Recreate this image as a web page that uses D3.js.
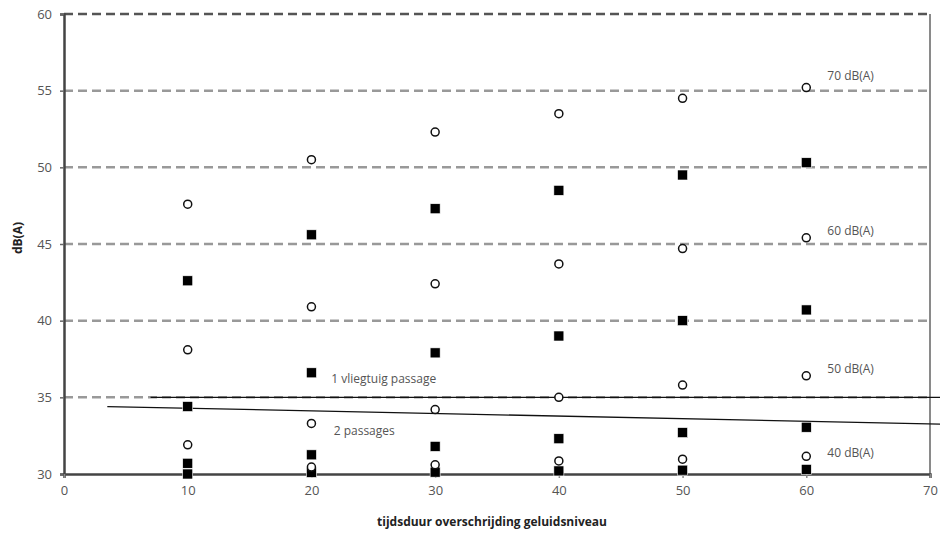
<!DOCTYPE html>
<html>
<head>
<meta charset="utf-8">
<script src="https://cdn.jsdelivr.net/npm/d3@7"></script>
<style>
  body { margin: 0; background: #fff; }
  text { font-family: "Open Sans", "DejaVu Sans", sans-serif; }
</style>
</head>
<body>
<svg width="940" height="535"></svg>
<script>
// Data
let durations = [10, 20, 30, 40, 50, 60];
// open circles (one row per noise level)
let circle70 = [47.6, 50.5, 52.3, 53.5, 54.5, 55.2];
let circle60 = [38.1, 40.9, 42.4, 43.7, 44.7, 45.4];
let circle50 = [31.9, 33.3, 34.2, 35.0, 35.8, 36.4];
let circle40 = [null, 30.45, 30.6, 30.85, 30.97, 31.15];
// filled squares
let square70 = [42.6, 45.6, 47.3, 48.5, 49.5, 50.3];
let square60 = [34.4, 36.6, 37.9, 39.0, 40.0, 40.7];
let square50 = [30.7, 31.25, 31.8, 32.3, 32.7, 33.05];
let square40 = [30.0, 30.1, 30.12, 30.2, 30.25, 30.3];

let yTicks = [30, 35, 40, 45, 50, 55, 60];
let xTicks = [0, 10, 20, 30, 40, 50, 60, 70];

// reference lines
let passage1 = [{x: 7, y: 35}, {x: 71, y: 35}];
let passage2 = [{x: 3.5, y: 34.4}, {x: 71, y: 33.25}];

let labels = [
  {text: "70 dB(A)", x: 61.7, y: 55.95},
  {text: "60 dB(A)", x: 61.7, y: 45.85},
  {text: "50 dB(A)", x: 61.7, y: 36.85},
  {text: "40 dB(A)", x: 61.7, y: 31.4},
  {text: "1 vliegtuig passage", x: 21.6, y: 36.2},
  {text: "2 passages", x: 21.8, y: 32.85}
];

let margin = {top: 14, right: 10, bottom: 61, left: 64};
let width = 940 - margin.left - margin.right;
let height = 535 - margin.top - margin.bottom;

let x = d3.scaleLinear().domain([0, 70]).range([0, width]);
let y = d3.scaleLinear().domain([30, 60]).range([height, 0]);

let svg = d3.select("svg").append("g")
    .attr("transform", "translate(" + margin.left + "," + margin.top + ")");

// right border
svg.append("line")
    .attr("x1", width).attr("x2", width)
    .attr("y1", 0).attr("y2", height)
    .attr("stroke", "#8a8a8a")
    .attr("stroke-width", 2);

// dashed gridlines
svg.selectAll(".grid")
    .data(yTicks.filter(d => d > 30))
    .enter().append("line")
    .attr("class", "grid")
    .attr("x1", 0).attr("x2", width)
    .attr("y1", d => y(d)).attr("y2", d => y(d))
    .attr("stroke", d => d === 60 ? "#555" : "#999")
    .attr("stroke-width", 2.5)
    .attr("stroke-dasharray", "9,5");

// Y axis
let yAxis = svg.append("g")
    .call(d3.axisLeft(y).tickValues(yTicks).tickSize(4).tickPadding(8));
yAxis.select(".domain").attr("stroke", "#444").attr("stroke-width", 2.5);
yAxis.selectAll(".tick line").attr("stroke", "#666").attr("stroke-width", 1.5);
yAxis.selectAll(".tick text").attr("fill", "#555").style("font-size", "13px");

// X axis
let xAxis = svg.append("g")
    .attr("transform", "translate(0," + height + ")")
    .call(d3.axisBottom(x).tickValues(xTicks).tickSize(4).tickPadding(8));
xAxis.select(".domain").attr("stroke", "#444").attr("stroke-width", 2.5);
xAxis.selectAll(".tick line").attr("stroke", "#888").attr("stroke-width", 1.5);
xAxis.selectAll(".tick text").attr("fill", "#555").style("font-size", "13px");

// axis titles
svg.append("text")
    .attr("x", width / 2 - 5)
    .attr("y", height + 52)
    .attr("text-anchor", "middle")
    .attr("fill", "#222")
    .style("font-size", "12px")
    .style("font-weight", "bold")
    .text("tijdsduur overschrijding geluidsniveau");

svg.append("text")
    .attr("transform", "translate(-42," + (height / 2 - 6) + ") rotate(-90)")
    .attr("text-anchor", "middle")
    .attr("fill", "#222")
    .style("font-size", "12px")
    .style("font-weight", "bold")
    .text("dB(A)");

// passage lines
let line = d3.line().x(d => x(d.x)).y(d => y(d.y));
[passage1, passage2].forEach(p => {
  svg.append("path")
      .datum(p)
      .attr("fill", "none")
      .attr("stroke", "#111")
      .attr("stroke-width", 1.3)
      .attr("d", line);
});

// squares
let squares = [square70, square60, square50, square40];
squares.forEach(series => {
  svg.selectAll(null)
      .data(durations.map((d, i) => ({x: d, y: series[i]})).filter(d => d.y != null))
      .enter().append("rect")
      .attr("x", d => x(d.x) - 5)
      .attr("y", d => y(d.y) - 5)
      .attr("width", 10)
      .attr("height", 10)
      .attr("fill", "#000")
      .attr("stroke", "#fff")
      .attr("stroke-width", 0.6);
});

// circles
let circles = [circle70, circle60, circle50, circle40];
circles.forEach(series => {
  svg.selectAll(null)
      .data(durations.map((d, i) => ({x: d, y: series[i]})).filter(d => d.y != null))
      .enter().append("circle")
      .attr("cx", d => x(d.x))
      .attr("cy", d => y(d.y))
      .attr("r", 4)
      .attr("fill", "#fff")
      .attr("stroke", "#111")
      .attr("stroke-width", 1.5);
});

// labels
svg.selectAll(".lbl")
    .data(labels)
    .enter().append("text")
    .attr("class", "lbl")
    .attr("x", d => x(d.x))
    .attr("y", d => y(d.y))
    .attr("dy", "0.35em")
    .attr("fill", "#555")
    .style("font-size", "12px")
    .text(d => d.text);
</script>
</body>
</html>
